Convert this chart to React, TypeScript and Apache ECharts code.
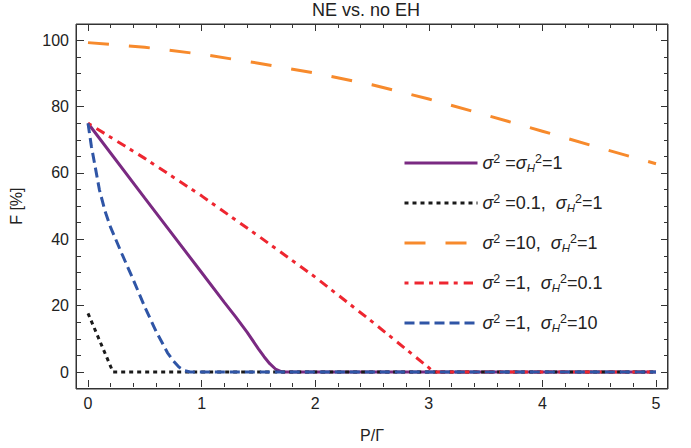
import React, { useEffect, useRef } from "react";
import * as echarts from "echarts";

// ---- data ----
const titleText = "NE vs. no EH";
const xName = "P/Γ";
const yName = "F [%]";

const xTickMin = 0;
const xTickMax = 5;
const xTickStep = 1;
const xMinorSplit = 5; // minor ticks every 0.2
const yTickMin = 0;
const yTickMax = 100;
const yTickStep = 20;
const yMinorSplit = 4; // minor ticks every 5

const seriesNames = ["σ²=σH²=1", "σ²=0.1, σH²=1", "σ²=10, σH²=1", "σ²=1, σH²=0.1", "σ²=1, σH²=10"];
const legendRich = [
  "{s|σ}{p|2}{n| =}{s|σ}{b|H}{p|2}{n|=1}",
  "{s|σ}{p|2}{n| =0.1,  }{s|σ}{b|H}{p|2}{n|=1}",
  "{s|σ}{p|2}{n| =10,  }{s|σ}{b|H}{p|2}{n|=1}",
  "{s|σ}{p|2}{n| =1,  }{s|σ}{b|H}{p|2}{n|=0.1}",
  "{s|σ}{p|2}{n| =1,  }{s|σ}{b|H}{p|2}{n|=10}",
];

const purpleX = [0, 0.5, 1.0, 1.2, 1.3, 1.4, 1.5, 1.55, 1.6, 1.65, 1.7, 1.72, 5];
const purpleY = [75, 52.4, 30.0, 21.0, 16.6, 12.0, 7.0, 4.6, 2.5, 0.9, 0.1, 0, 0];

const blackX = [0, 0.22, 5];
const blackY = [17.7, 0, 0];

const orangeX = [0, 0.5, 1, 1.5, 2, 2.5, 3, 3.5, 4, 4.5, 5];
const orangeY = [99.3, 97.9, 95.8, 93.1, 90.1, 86.6, 82.3, 77.5, 72.6, 67.6, 62.8];

const redX = [0, 0.5, 1, 1.5, 2, 2.5, 3, 3.04, 5];
const redY = [75, 64.4, 53.1, 41.0, 28.6, 15.2, 1.3, 0, 0];

const blueX = [0, 0.03, 0.06, 0.1, 0.15, 0.2, 0.3, 0.4, 0.5, 0.6, 0.7, 0.75, 0.8, 0.85, 0.9, 5];
const blueY = [75, 68, 62.5, 55, 48.5, 43.5, 35.5, 27.7, 19.6, 12.2, 5.8, 3.4, 1.5, 0.4, 0, 0];

// ---- layout / style ----
const W = 691;
const H = 448;
const FRAME = { l: 76, r: 668, t: 24, b: 389 };
const X0_PX = 88; // pixel of x = xTickMin
const X5_PX = 656; // pixel of x = xTickMax
const Y0_PX = 372; // pixel of y = yTickMin
const Y100_PX = 40.3; // pixel of y = yTickMax

const FONT = "Liberation Sans, Arial, sans-serif";
const AXIS_COLOR = "#333";
const TEXT_COLOR = "#222";

function pairs(xs: number[], ys: number[]) {
  return xs.map((x, i) => [x, ys[i]]);
}

export default function App() {
  const ref = useRef<HTMLDivElement>(null);
  useEffect(() => {
    if (!ref.current) return;
    const chart = echarts.init(ref.current, undefined, { renderer: "svg" });

    const xPerPx = (xTickMax - xTickMin) / (X5_PX - X0_PX);
    const yPerPx = (yTickMax - yTickMin) / (Y0_PX - Y100_PX);
    const X_MIN = xTickMin - (X0_PX - FRAME.l) * xPerPx;
    const X_MAX = xTickMax + (FRAME.r - X5_PX) * xPerPx;
    const Y_MIN = yTickMin - (FRAME.b - Y0_PX) * yPerPx;
    const Y_MAX = yTickMax + (Y100_PX - FRAME.t) * yPerPx;

    const labelStyle = () => ({ fontSize: 16, fontFamily: FONT, color: TEXT_COLOR });

    const tickX = (position: string, labels: boolean) => ({
      type: "value",
      gridIndex: 1,
      position,
      min: xTickMin,
      max: xTickMax,
      interval: xTickStep,
      axisLine: { show: false },
      axisTick: { show: true, inside: true, length: 7, lineStyle: { color: AXIS_COLOR, width: 1 } },
      minorTick: { show: true, splitNumber: xMinorSplit, length: 4, lineStyle: { color: AXIS_COLOR, width: 1 } },
      axisLabel: { show: labels, margin: 8, ...labelStyle() },
      splitLine: { show: false },
    });
    const tickY = (position: string, labels: boolean) => ({
      type: "value",
      gridIndex: 2,
      position,
      min: yTickMin,
      max: yTickMax,
      interval: yTickStep,
      axisLine: { show: false },
      axisTick: { show: true, inside: true, length: 7, lineStyle: { color: AXIS_COLOR, width: 1 } },
      minorTick: { show: true, splitNumber: yMinorSplit, length: 4, lineStyle: { color: AXIS_COLOR, width: 1 } },
      axisLabel: { show: labels, margin: 8, ...labelStyle() },
      splitLine: { show: false },
    });
    const hidden = (gridIndex: number, min: number, max: number) => ({
      type: "value",
      gridIndex,
      show: false,
      min,
      max,
      splitLine: { show: false },
    });

    const mk = (i: number, xs: number[], ys: number[], color: string, type: any, width: number) => ({
      name: seriesNames[i],
      type: "line",
      xAxisIndex: 0,
      yAxisIndex: 0,
      data: pairs(xs, ys),
      symbol: "none",
      smooth: false,
      lineStyle: { color, width, type },
      itemStyle: { color },
    });

    const richBase = { fontFamily: FONT, color: TEXT_COLOR };
    chart.setOption({
      animation: false,
      title: {
        text: titleText,
        left: 312,
        top: 1,
        padding: 0,
        textStyle: { fontSize: 18, fontWeight: "normal", fontFamily: FONT, color: TEXT_COLOR },
      },
      graphic: [
        {
          type: "rect",
          silent: true,
          shape: { x: FRAME.l + 0.5, y: FRAME.t + 0.5, width: FRAME.r - FRAME.l - 1, height: FRAME.b - FRAME.t - 1 },
          style: { fill: "none", stroke: AXIS_COLOR, lineWidth: 1 },
        },
      ],
      grid: [
        {
          left: FRAME.l,
          right: W - FRAME.r,
          top: FRAME.t,
          bottom: H - FRAME.b,
          show: true,
          borderColor: AXIS_COLOR,
          borderWidth: 1,
        },
        { left: X0_PX, right: W - X5_PX, top: FRAME.t, bottom: H - FRAME.b },
        { left: FRAME.l, right: W - FRAME.r, top: Y100_PX, bottom: H - Y0_PX },
      ],
      xAxis: [
        hidden(0, X_MIN, X_MAX),
        { ...tickX("bottom", true), name: xName, nameLocation: "middle", nameGap: 40, nameTextStyle: labelStyle() },
        tickX("top", false),
        hidden(2, 0, 1),
      ],
      yAxis: [
        hidden(0, Y_MIN, Y_MAX),
        hidden(1, 0, 1),
        { ...tickY("left", true), name: yName, nameLocation: "middle", nameGap: 53, nameTextStyle: labelStyle() },
        tickY("right", false),
      ],
      legend: {
        orient: "vertical",
        left: 403,
        top: 152,
        padding: 0,
        itemWidth: 73,
        itemHeight: 22,
        itemGap: 18,
        itemTextGap: 10,
        data: seriesNames,
        lineStyle: { width: 3 },
        itemStyle: { opacity: 0 },
        formatter: (name: string) => legendRich[seriesNames.indexOf(name)],
        textStyle: {
          fontFamily: FONT,
          fontSize: 18,
          color: TEXT_COLOR,
          rich: {
            n: { ...richBase, fontSize: 18, lineHeight: 22 },
            s: { ...richBase, fontSize: 18, lineHeight: 22, fontStyle: "italic" },
            p: { ...richBase, fontSize: 12.5, lineHeight: 13.5, verticalAlign: "top" },
            b: { ...richBase, fontSize: 11.5, lineHeight: 10, verticalAlign: "bottom", fontStyle: "italic" },
          },
        },
      },
      series: [
        mk(0, purpleX, purpleY, "#7a2a82", "solid", 3),
        mk(1, blackX, blackY, "#1a1a1a", [4, 4], 3),
        mk(2, orangeX, orangeY, "#f78a2c", [21, 20], 3),
        mk(3, redX, redY, "#ee2630", [4, 6, 9.3, 5.3], 3),
        mk(4, blueX, blueY, "#2f55a6", [10, 5], 3),
      ],
    });
    return () => chart.dispose();
  }, []);
  return <div ref={ref} style={{ position: "fixed", left: 0, top: 0, width: W, height: H, background: "#fff" }} />;
}
